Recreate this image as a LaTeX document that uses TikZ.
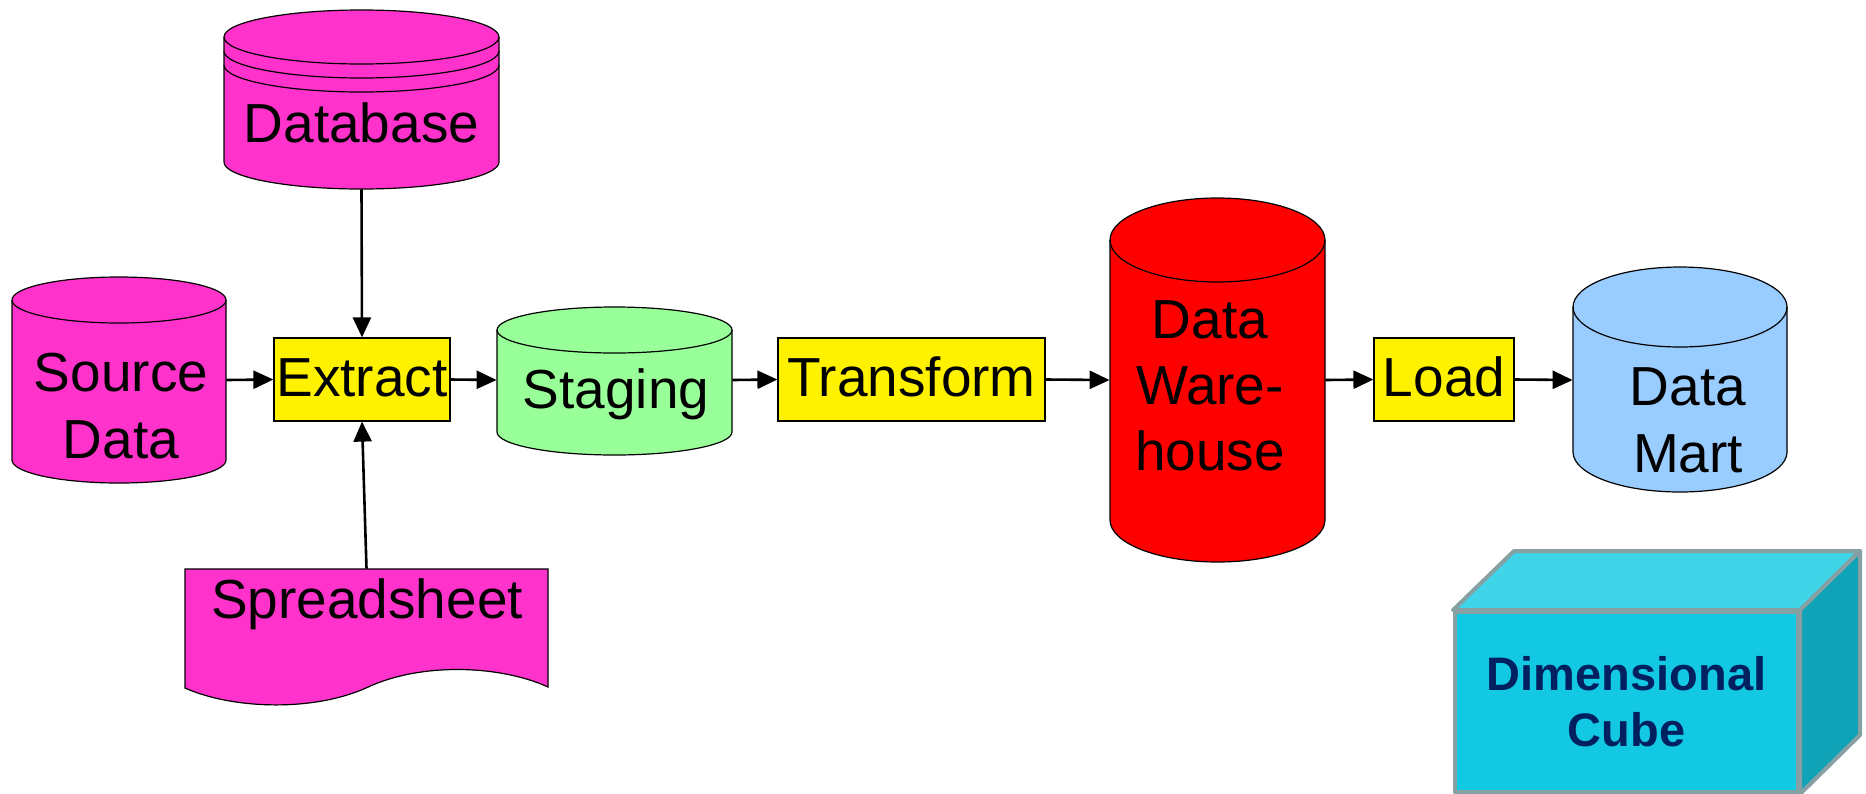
\documentclass[tikz,border=0pt]{standalone}
\usepackage{fontspec}
\setmainfont{Liberation Sans}
\usetikzlibrary{arrows.meta}
\definecolor{mag}{RGB}{255,51,204}
\definecolor{stgreen}{RGB}{153,255,153}
\definecolor{dmblue}{RGB}{153,204,255}
\definecolor{cubefront}{RGB}{18,200,226}
\definecolor{cubetop}{RGB}{64,212,232}
\definecolor{cubeside}{RGB}{16,162,182}
\definecolor{cubeline}{RGB}{134,160,164}
\definecolor{navy}{RGB}{0,32,96}
\newcommand{\CylShape}[6]{%
  \filldraw[outline, fill=#6] ({#1-#4},#2) -- ({#1-#4},#3)
     arc[start angle=180, end angle=360, x radius=#4*0.5pt, y radius=#5*0.5pt]
     -- ({#1+#4},#2)
     arc[start angle=0, end angle=180, x radius=#4*0.5pt, y radius=#5*0.5pt] -- cycle;
  \draw[outline] ({#1-#4},#2) arc[start angle=180, end angle=360, x radius=#4*0.5pt, y radius=#5*0.5pt];
}
\begin{document}
\begin{tikzpicture}[x=0.5pt,y=-0.5pt,
  outline/.style={draw=black, line width=0.6pt},
  procbox/.style={outline, fill=yellow, inner sep=0pt, minimum height=41.5pt,
     text height=19pt, text depth=2.5pt, font=\fontsize{27.5pt}{33pt}\selectfont},
  lbl/.style={inner sep=0pt, anchor=base, font=\fontsize{27.5pt}{33pt}\selectfont},
  hit/.style={inner sep=0pt, draw=none, fill=none},
  flow/.style={line width=1.3pt, -{Triangle[length=10pt,width=9pt]}},
  cubeedge/.style={draw=cubeline, line width=2pt, line join=round}]
\useasboundingbox (0,0) rectangle (1866,793);

% Database (stacked cylinder)
\CylShape{361.5}{37}{162}{137.5}{27}{mag}
\draw[outline] (224,51) arc[start angle=180, end angle=360, x radius=68.75pt, y radius=13.5pt];
\draw[outline] (224,65) arc[start angle=180, end angle=360, x radius=68.75pt, y radius=13.5pt];
\node[hit, minimum width=137.5pt, minimum height=90pt] (db) at (361.5,99) {};
\node[lbl] (db-t) at (361.5,142) {Database};

% Source Data
\CylShape{119}{300}{460}{107}{23}{mag}
\node[hit, minimum width=107pt, minimum height=100pt] (src) at (119,380) {};
\node[lbl] (src-t1) at (121,391) {Source};
\node[lbl] (src-t2) at (121,458) {Data};

% Spreadsheet
\draw[outline, fill=mag] (185,569) -- (548,569) -- (548,687)
   .. controls (500,665) and (420,662) .. (366,688)
   .. controls (312,712) and (232,709) .. (185,688) -- cycle;
\node[hit, minimum width=181.5pt, minimum height=68pt] (ss) at (366.5,637) {};
\node[lbl] (ss-t) at (367,618) {Spreadsheet};

% Staging
\CylShape{614.5}{330}{432}{117.5}{23}{stgreen}
\node[hit, minimum width=117.5pt, minimum height=80pt] (stg) at (614.5,380) {};
\node[lbl] (stg-t) at (616,408) {Staging};

% Data Warehouse
\CylShape{1217.5}{240}{520}{107.5}{42}{red}
\node[hit, minimum width=107.5pt, minimum height=160pt] (dw) at (1217.5,380) {};
\node[lbl] (dw-t1) at (1210,338) {Data};
\node[lbl] (dw-t2) at (1210,404) {Ware-};
\node[lbl] (dw-t3) at (1210,470) {house};

% Data Mart
\CylShape{1680}{307}{452}{107}{40}{dmblue}
\node[hit, minimum width=107pt, minimum height=120pt] (dm) at (1680,380) {};
\node[lbl] (dm-t1) at (1688,405) {Data};
\node[lbl] (dm-t2) at (1688,472) {Mart};

% Process boxes
\node[procbox, minimum width=88pt] (ext) at (362,379.5) {Extract};
\node[procbox, minimum width=133.5pt] (tr) at (911.5,379.5) {Transform};
\node[procbox, minimum width=70pt] (ld) at (1444,379.5) {Load};

% Connectors
\draw[flow] (db.south) -- (ext.north);
\draw[flow] (ss.north) -- (ext.south);
\draw[flow] (src.east) -- (ext.west);
\draw[flow] (ext.east) -- (stg.west);
\draw[flow] (stg.east) -- (tr.west);
\draw[flow] (tr.east) -- (dw.west);
\draw[flow] (dw.east) -- (ld.west);
\draw[flow] (ld.east) -- (dm.west);

% Dimensional cube
\node[cubeedge, fill=cubefront, inner sep=0pt, minimum width=171.5pt, minimum height=90pt,
  align=center, text=navy, font=\bfseries\fontsize{23.5pt}{28pt}\selectfont] (cube) at (1626.5,702) {Dimensional\\Cube};
\draw[cubeedge, fill=cubetop] (cube.north west) -- ([shift={(61,-59)}]cube.north west)
   -- ([shift={(60,-59)}]cube.north east) -- (cube.north east) -- cycle;
\draw[cubeedge, fill=cubeside] (cube.north east) -- ([shift={(60,-59)}]cube.north east)
   -- ([shift={(60,-59)}]cube.south east) -- (cube.south east) -- cycle;
\end{tikzpicture}
\end{document}
